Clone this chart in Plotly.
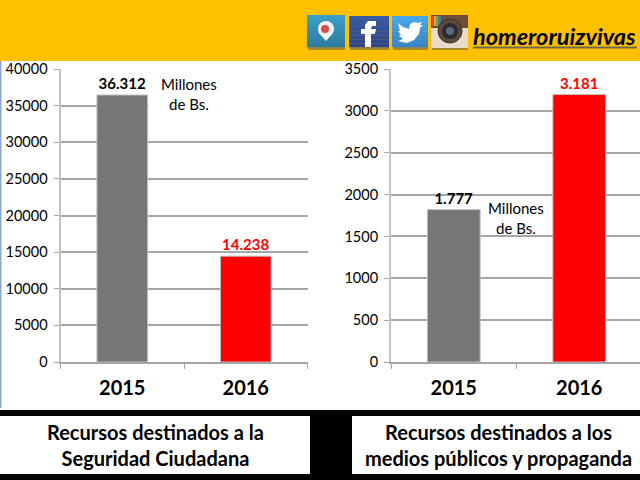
import plotly.graph_objects as go

years = ["2015", "2016"]
seguridad_values = [36450, 14450]
seguridad_labels = ["36.312", "14.238"]
medios_values = [1820, 3195]
medios_labels = ["1.777", "3.181"]
bar_colors = ["#767676", "#FF0000"]
label_colors = ["#000000", "#FF0000"]
seguridad_ticks = [0, 5000, 10000, 15000, 20000, 25000, 30000, 35000, 40000]
medios_ticks = [0, 500, 1000, 1500, 2000, 2500, 3000, 3500]

W, H = 640, 480
FONT = "Lato, Carlito, sans-serif"
GRID = "#A6A6A6"
px = lambda v: v / W
py = lambda v: 1 - v / H

shapes = []

def rect(x0, y0, x1, y1, color, layer="below"):
    shapes.append(dict(type="rect", xref="paper", yref="paper", x0=px(x0), x1=px(x1),
                       y0=py(y1), y1=py(y0), fillcolor=color, line=dict(width=0), layer=layer))

def circle(cx, cy, r, color, line=None, lw=0):
    shapes.append(dict(type="circle", xref="paper", yref="paper", x0=px(cx - r), x1=px(cx + r),
                       y0=py(cy + r), y1=py(cy - r), fillcolor=color,
                       line=dict(width=lw, color=line or color), layer="above"))

def poly(points, color):
    d = "M" + " L".join(f"{px(x):.5f} {py(y):.5f}" for x, y in points) + " Z"
    shapes.append(dict(type="path", xref="paper", yref="paper", path=d, fillcolor=color,
                       line=dict(width=0), layer="above"))

def grad(x0, y0, x1, y1, c0, c1, n=8):
    def h(c): return [int(c[i:i + 2], 16) for i in (1, 3, 5)]
    a, b = h(c0), h(c1)
    for i in range(n):
        t = i / (n - 1)
        col = "rgb(%d,%d,%d)" % tuple(a[k] + (b[k] - a[k]) * t for k in range(3))
        rect(x0, y0 + (y1 - y0) * i / n, x1, y0 + (y1 - y0) * (i + 1) / n + 0.3, col)

# page bands
rect(0, 0, 640, 61, "#FFC000")
rect(0, 61, 1.5, 408, "#8EA9CF")
rect(0, 410, 640, 480, "#000000")
rect(0, 416, 310, 474, "#FFFFFF")
rect(352, 416, 640, 474, "#FFFFFF")
# white text box hiding the 35000 gridline beside the first bar
rect(148.5, 100, 309, 112, "#FFFFFF", layer="above")

# social icons
for x0, x1, y1 in [(308, 345, 50), (350, 389, 50), (393, 428, 50), (432, 468, 50)]:
    rect(x0, y1 - 4, x1, y1, "#A88A2C")
grad(307, 15, 345, 47, "#3A9FC6", "#2F7E9F")
grad(349, 16, 389, 47, "#3B5BA0", "#31478A")
grad(392, 16, 428, 47, "#4BA6E8", "#3585CC")
rect(431, 28, 468, 48, "#E8DCC8")
rect(431, 15, 468, 28, "#6E4E36")
for i, c in enumerate(["#E8483C", "#F0B030", "#58B050", "#3A80C0"]):
    rect(432 + i * 2.2, 16, 434.2 + i * 2.2, 26, c)
circle(450, 31, 12, "#5A4A40", "#3A302A", 1)
circle(450, 31, 8, "#2C2A30")
circle(450, 31, 4, "#5A6A80")
# periscope marker
circle(326, 29, 8, "#F4F4F4")
poly([(319, 33), (333, 33), (326, 41)], "#F4F4F4")
circle(325, 29, 4, "#E04A48")
# facebook f
poly([(365, 47), (365, 34), (361, 34), (361, 29), (365, 29), (365, 25), (368, 21), (376, 21),
      (376, 26), (372, 26), (371, 29), (376, 29), (375, 34), (371, 34), (371, 47)], "#FFFFFF")
# twitter bird
poly([(398, 23), (403, 27), (409, 29), (410, 24), (414, 22), (418, 23), (422, 22), (420, 25),
      (423, 25), (420, 28), (419, 34), (414, 40), (407, 43), (398, 41), (403, 39), (399, 36),
      (401, 35), (398, 31), (400, 31)], "#FFFFFF")
shapes.append(dict(type="line", xref="paper", yref="paper", x0=px(473), x1=px(637), y0=py(47.5), y1=py(47.5),
                   line=dict(color="#6E6A50", width=2), layer="above"))

fig = go.Figure()
fig.add_trace(go.Bar(x=years, y=seguridad_values, text=seguridad_labels, xaxis="x", yaxis="y",
                     marker=dict(color=bar_colors, line=dict(color="#BDBDBD", width=1)), width=0.41))
fig.add_trace(go.Bar(x=years, y=medios_values, text=medios_labels, xaxis="x2", yaxis="y2",
                     marker=dict(color=bar_colors, line=dict(color="#BDBDBD", width=1)), width=0.42))
fig.update_traces(textposition="outside", cliponaxis=False,
                  textfont=dict(family=FONT, size=15, color=label_colors, weight="bold"))

axis_y = dict(showgrid=True, gridcolor=GRID, gridwidth=1.5, ticks="outside", ticklen=5, tickcolor=GRID,
              showline=True, linecolor="#C4C4C4", linewidth=2, zeroline=False, automargin=False,
              tickformat="d", ticklabelstandoff=3, tickfont=dict(family=FONT, size=14.5, color="#000000"))
axis_x = dict(type="category", ticks="outside", tickson="boundaries", ticklen=5, tickcolor=GRID,
              showline=True, linecolor=GRID, linewidth=1.5, automargin=False, showgrid=False,
              ticklabelstandoff=7, tickfont=dict(family=FONT, size=20, color="#000000", weight="bold"))
y_dom = [py(362), py(69)]

fig.update_layout(
    width=W, height=H, margin=dict(l=0, r=0, t=0, b=0), autosize=False,
    paper_bgcolor="#FFFFFF", plot_bgcolor="rgba(0,0,0,0)", showlegend=False,
    xaxis=dict(axis_x, domain=[px(60.5), px(307.5)], range=[-0.5, 1.5], anchor="y"),
    yaxis=dict(axis_y, domain=y_dom, range=[0, 40000], tickvals=seguridad_ticks, anchor="x"),
    xaxis2=dict(axis_x, domain=[px(391), 1], range=[-0.5, 1.484], anchor="y2"),
    yaxis2=dict(axis_y, domain=y_dom, range=[0, 3500], tickvals=medios_ticks, anchor="x2"),
    shapes=shapes,
)

def note(x, y, text, size, weight="normal", italic=False, align="center", anchor="center"):
    fig.add_annotation(xref="paper", yref="paper", x=px(x), y=py(y), text=text, showarrow=False,
                       xanchor=anchor, yanchor="middle", align=align,
                       font=dict(family=FONT, size=size, color="#000000", weight=weight,
                                 style="italic" if italic else "normal"))

note(188.5, 94, "Millones<br>de Bs.", 15)
note(516, 218, "Millones<br>de Bs.", 15)
note(155, 445, "Recursos destinados a la<br>Seguridad Ciudadana", 20, "bold")
note(498, 445, "Recursos destinados a los<br>medios públicos y propaganda", 20, "bold")
note(471, 36, "homeroruizvivas", 23.5, "bold", True, anchor="left")

fig.write_html("out.html", config=dict(displayModeBar=False),
               post_script="document.body.style.margin='0';document.documentElement.style.overflow='hidden';")
